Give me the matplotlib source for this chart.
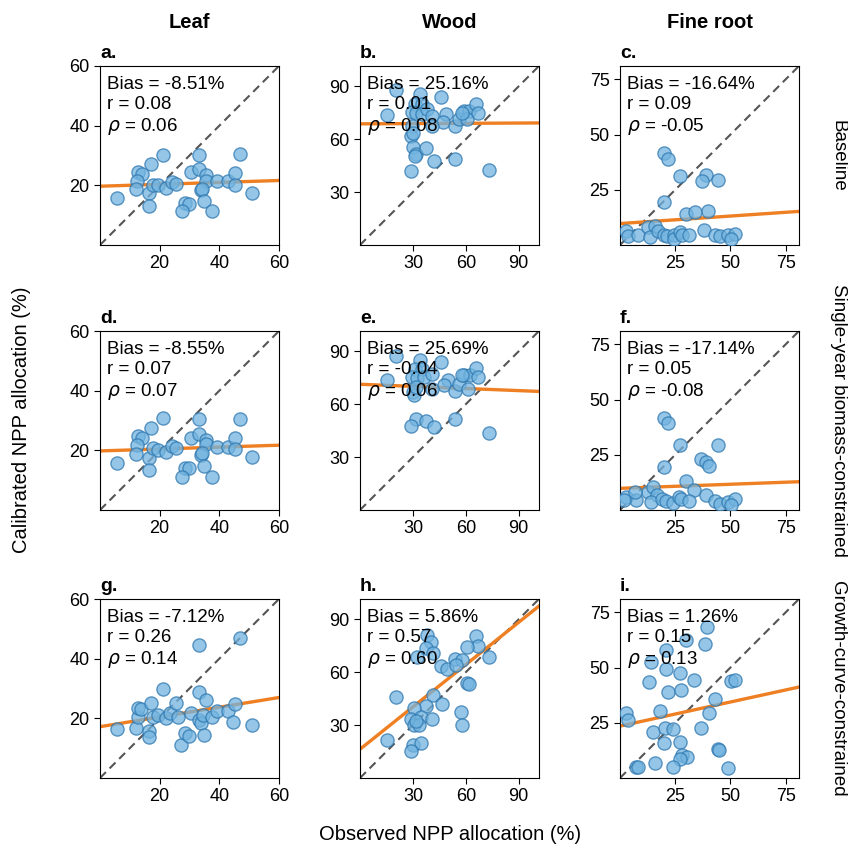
import numpy as np
import matplotlib
matplotlib.use("Agg")
import matplotlib.pyplot as plt

plt.rcParams['font.family'] = ['Liberation Sans', 'DejaVu Sans']
plt.rcParams['mathtext.fontset'] = 'dejavusans'

# ---- data ----
organs = ["Leaf", "Wood", "Fine root"]
schemes = ["Baseline", "Single-year biomass-constrained", "Growth-curve-constrained"]
letters = ["a.", "b.", "c.", "d.", "e.", "f.", "g.", "h.", "i."]

bias = [-8.51, 25.16, -16.64, -8.55, 25.69, -17.14, -7.12, 5.86, 1.26]
pearson = [0.08, 0.01, 0.09, 0.07, -0.04, 0.05, 0.26, 0.57, 0.15]
spearman = [0.06, 0.08, -0.05, 0.07, 0.06, -0.08, 0.14, 0.60, 0.13]

# regression lines (intercept, slope)
fit_intercept = [19.7, 68.7, 9.7, 19.8, 71.3, 9.8, 17.2, 16.3, 23.5]
fit_slope = [0.032, 0.005, 0.068, 0.032, -0.04, 0.037, 0.163, 0.80, 0.218]

lims = [60, 101.5, 81]
ticks = [[20, 40, 60], [30, 60, 90], [25, 50, 75]]

# Leaf
leaf_obs_a = [5.6, 21.1, 17.1, 12.9, 14.0, 12.4, 12.0, 16.3, 16.5, 17.6, 19.6, 22.1, 24.1, 25.6,
              28.6, 29.7, 27.5, 30.5, 33.3, 33.3, 35.4, 35.4, 33.8, 34.2, 35.0, 37.4, 39.3, 43.0,
              45.2, 45.1, 46.8, 50.8]
leaf_cal_a = [15.6, 30.2, 27.1, 24.4, 23.8, 21.3, 18.7, 17.3, 13.2, 20.2, 20.2, 19.2, 21.1, 20.6,
              14.0, 13.8, 11.3, 24.4, 30.2, 25.5, 23.3, 21.6, 18.4, 18.9, 14.6, 11.3, 21.6, 21.3,
              24.2, 20.2, 30.4, 17.5]
leaf_obs_d = leaf_obs_a
leaf_cal_d = [15.9, 30.8, 27.5, 24.7, 24.2, 21.8, 18.7, 17.5, 13.5, 20.7, 20.1, 19.5, 21.4, 20.9,
              14.2, 14.0, 11.2, 24.2, 30.6, 25.5, 23.6, 22.2, 18.4, 19.2, 14.8, 11.2, 21.2, 21.2,
              24.2, 20.3, 30.6, 17.9]
leaf_obs_g = [5.6, 12.0, 12.7, 12.9, 13.7, 16.3, 16.5, 17.1, 17.6, 19.6, 21.1, 22.1, 23.6, 25.5,
              26.0, 27.3, 28.6, 29.7, 30.5, 33.3, 33.1, 33.3, 34.0, 34.4, 35.4, 34.8, 37.6, 39.3,
              43.0, 44.5, 45.2, 46.8, 50.8]
leaf_cal_g = [16.4, 16.7, 20.6, 23.3, 23.1, 15.6, 13.7, 25.2, 20.3, 21.1, 29.8, 20.0, 21.7, 25.3,
              20.6, 10.9, 15.2, 14.1, 21.7, 44.7, 28.9, 19.4, 18.3, 21.1, 26.1, 14.4, 20.3, 22.4,
              22.4, 18.7, 24.7, 47.0, 17.8]

# Wood
wood_obs_b = [20.6, 15.5, 33.8, 31.1, 35.3, 29.3, 31.9, 35.3, 38.1, 41.0, 46.2, 48.5, 47.0, 29.7,
              28.7, 30.0, 41.0, 53.8, 56.3, 59.1, 61.7, 60.8, 65.9, 67.0, 57.6, 30.0, 31.9, 31.1,
              37.2, 41.9, 53.6, 28.7, 73.0]
wood_cal_b = [87.9, 73.9, 85.6, 80.0, 80.0, 75.3, 74.7, 74.3, 77.1, 73.3, 84.1, 74.3, 69.6, 67.7,
              62.0, 63.6, 67.7, 67.7, 71.5, 76.2, 76.2, 71.5, 80.0, 74.7, 74.7, 55.5, 51.7, 50.7,
              55.1, 47.5, 48.8, 41.9, 42.8]
wood_obs_e = [20.6, 15.5, 33.8, 31.1, 35.3, 29.3, 32.5, 36.2, 40.6, 46.2, 49.8, 47.5, 30.0, 30.6,
              40.6, 53.8, 56.4, 58.9, 62.1, 61.3, 65.9, 67.0, 57.6, 31.9, 28.7, 37.2, 41.9, 53.8,
              73.0, 31.5]
wood_cal_e = [87.6, 73.5, 85.3, 80.0, 79.7, 75.4, 74.8, 75.4, 77.2, 83.8, 73.5, 70.7, 66.9, 65.4,
              68.4, 67.5, 71.6, 76.7, 76.7, 68.4, 80.4, 75.4, 76.3, 51.6, 47.6, 50.6, 46.9, 51.4,
              43.5, 69.7]
wood_obs_h = [65.9, 66.8, 60.8, 73.0, 38.1, 40.0, 37.6, 41.3, 32.5, 45.7, 49.5, 53.8, 57.6, 54.2,
              60.8, 61.7, 20.6, 41.3, 37.6, 46.6, 30.6, 28.7, 34.4, 40.6, 30.6, 33.4, 31.9, 57.0,
              57.9, 15.5, 30.0, 34.7, 28.7]
wood_cal_h = [80.6, 74.8, 74.0, 68.4, 80.9, 77.2, 73.5, 70.6, 68.4, 63.5, 61.8, 67.3, 66.9, 64.1,
              53.8, 53.4, 45.9, 47.2, 41.0, 42.1, 39.7, 33.7, 34.6, 33.5, 30.3, 30.3, 32.2, 37.3,
              30.3, 21.3, 18.7, 20.0, 15.4]

# Fine root
root_obs_c = [19.7, 21.7, 27.1, 38.9, 37.0, 44.3, 20.0, 30.0, 33.8, 40.0, 38.1, 2.8, 3.5, 8.1,
              12.8, 15.8, 13.5, 17.3, 19.7, 21.2, 24.3, 24.3, 27.1, 28.1, 31.2, 42.8, 45.1, 48.9,
              52.0, 50.4]
root_cal_c = [41.8, 39.0, 31.4, 31.8, 29.1, 29.2, 19.5, 14.1, 15.0, 15.2, 7.0, 6.2, 4.0, 4.4,
              8.2, 8.8, 3.5, 6.2, 4.7, 4.0, 4.7, 2.5, 5.8, 4.4, 4.7, 4.7, 4.0, 4.3, 5.2, 2.5]
root_obs_f = [19.7, 21.7, 27.1, 44.3, 36.6, 38.9, 40.1, 20.0, 30.0, 33.5, 38.9, 2.8, 7.4, 12.8,
              15.1, 16.6, 14.0, 18.9, 20.8, 23.8, 26.6, 27.8, 31.2, 42.8, 45.1, 48.9, 52.0, 50.4,
              6.6, 2.0]
root_cal_f = [41.8, 39.5, 29.6, 29.3, 23.0, 21.5, 19.7, 19.4, 13.1, 9.0, 6.7, 6.0, 4.4, 8.3,
              10.2, 6.7, 3.7, 4.8, 4.2, 3.2, 6.0, 5.2, 4.2, 4.2, 2.9, 3.7, 4.8, 2.1, 8.3, 4.4]
root_obs_i = [39.2, 30.0, 38.6, 20.8, 14.0, 20.8, 27.1, 33.5, 13.1, 50.4, 52.0, 21.7, 27.7, 43.0,
              18.1, 40.1, 2.8, 3.5, 15.1, 20.2, 24.0, 36.6, 19.7, 27.3, 44.3, 44.7, 28.1, 30.4,
              27.3, 15.7, 7.4, 8.1, 23.9, 48.9]
root_cal_i = [68.2, 62.5, 60.7, 58.0, 52.5, 49.5, 47.5, 44.5, 43.5, 43.9, 44.2, 39.0, 40.0, 35.9,
              30.4, 29.5, 29.2, 26.2, 20.9, 22.4, 22.1, 22.4, 16.0, 16.4, 13.0, 12.7, 10.4, 9.7,
              8.5, 6.7, 5.2, 5.2, 4.9, 4.4]

obs = [leaf_obs_a, wood_obs_b, root_obs_c, leaf_obs_d, wood_obs_e, root_obs_f,
       leaf_obs_g, wood_obs_h, root_obs_i]
cal = [leaf_cal_a, wood_cal_b, root_cal_c, leaf_cal_d, wood_cal_e, root_cal_f,
       leaf_cal_g, wood_cal_h, root_cal_i]

# ---- figure ----
W, H = 848, 855
fig = plt.figure(figsize=(W / 100, H / 100), dpi=100)

col_left = [100, 360, 620]
row_top = [66, 331, 599]
box = 179

for k in range(9):
    row, col = divmod(k, 3)
    ax = fig.add_axes([col_left[col] / W, 1 - (row_top[row] + box) / H, box / W, box / H])
    lim = lims[col]
    ax.plot([0, lim], [0, lim], ls=(0, (4, 2.5)), color="#555555", lw=1.5, zorder=1)
    xx = np.array([0, lim])
    ax.plot(xx, fit_intercept[k] + fit_slope[k] * xx, color="#ee7f22", lw=2.4, zorder=2)
    ax.scatter(obs[k], cal[k], s=90, facecolor="#72b4e0", edgecolor="#2f78b0",
               alpha=0.75, linewidth=1.0, zorder=3)
    ax.set_xlim(0, lim)
    ax.set_ylim(0, lim)
    ax.set_xticks(ticks[col])
    ax.set_yticks(ticks[col])
    ax.tick_params(labelsize=13, length=4, width=0.8)
    for s in ax.spines.values():
        s.set_linewidth(0.8)
    txt = "Bias = %.2f%%\nr = %.2f\n$\\rho$ = %.2f" % (bias[k], pearson[k], spearman[k])
    ax.text(0.04, 0.945, txt, transform=ax.transAxes, ha="left", va="top",
            fontsize=13.5, linespacing=1.22, zorder=5)
    ax.text(0.0, 1.025, letters[k], transform=ax.transAxes, ha="left", va="bottom",
            fontsize=14, fontweight="bold")

# column titles
for col in range(3):
    fig.text((col_left[col] + box / 2) / W, 1 - 23 / H, organs[col], ha="center", va="center",
             fontsize=14.5, fontweight="bold")

# row labels
for row in range(3):
    fig.text(838 / W, 1 - (row_top[row] + box / 2) / H, schemes[row], ha="center", va="center",
             rotation=-90, fontsize=13.5)

fig.text(22 / W, 1 - 420 / H, "Calibrated NPP allocation (%)", ha="center", va="center",
         rotation=90, fontsize=14.5)
fig.text(450 / W, 1 - 834 / H, "Observed NPP allocation (%)", ha="center", va="center",
         fontsize=14.5)

fig.savefig("out.png", dpi=100)
